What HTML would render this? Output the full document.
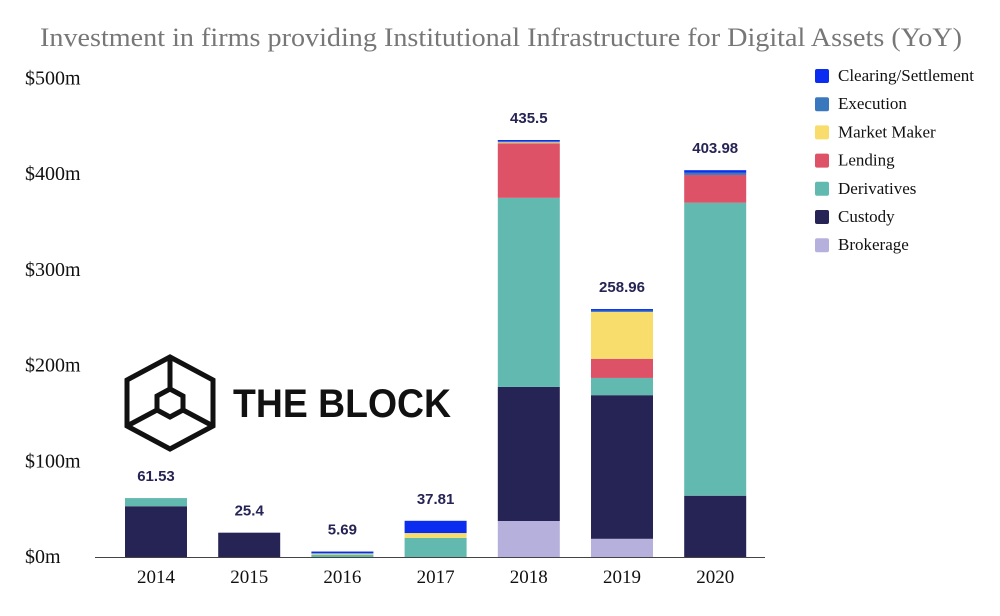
<!DOCTYPE html>
<html><head><meta charset="utf-8"><style>
body{margin:0;background:#fff;width:1000px;height:611px;overflow:hidden}
</style></head><body>
<svg id="c" width="1000" height="611" font-family="Liberation Serif, serif">
<text x="40" y="46" textLength="922" lengthAdjust="spacingAndGlyphs" font-size="26" fill="#777">Investment in firms providing Institutional Infrastructure for Digital Assets (YoY)</text>
<g transform="translate(170,402)" fill="none" stroke="#111" stroke-width="5">
<polygon points="0,-45 43,-22 43,24 0,47 -43,24 -43,-22"/>
<line x1="0" y1="-45" x2="0" y2="-13"/><line x1="43" y1="24" x2="13" y2="8"/><line x1="-43" y1="24" x2="-13" y2="8"/>
<polygon points="0,-13 13,-6 13,8 0,15 -13,8 -13,-6"/>
</g>
<text x="233" y="417" textLength="218" lengthAdjust="spacingAndGlyphs" font-family="Liberation Sans, sans-serif" font-weight="bold" font-size="40" fill="#111">THE BLOCK</text>
<line x1="95" y1="557.5" x2="765" y2="557.5" stroke="#444" stroke-width="1"/>
<g id="bars"></g><g id="yt"></g><g id="xt"></g><g id="leg"></g>
</svg>
<script>
const years=["2014","2015","2016","2017","2018","2019","2020"];
const totals=["61.53","25.4","5.69","37.81","435.5","258.96","403.98"];
const seriesNames=["Brokerage","Custody","Derivatives","Lending","Market Maker","Execution","Clearing/Settlement"];
const brokerage=[0,0,0,0,37.6,19,0];
const custody=[53,25.4,0,0,140,150,64];
const derivatives=[8.53,0,2.5,20,197.5,18,306];
const lending=[0,0,0,0,57,20,29];
const marketMaker=[0,0,1,5,1,48.96,0];
const execution=[0,0,0.5,0,1,1.5,2.5];
const clearing=[0,0,1.69,12.81,1.4,1.5,2.48];
const yTicks=[0,100,200,300,400,500];
const colors=["#b6b0dd","#262454","#62b9b0","#dd5266","#f8dd6c","#3a78be","#0a2df0"];
const data=[brokerage,custody,derivatives,lending,marketMaker,execution,clearing];
const ns="http://www.w3.org/2000/svg";
const y0=557,k=0.9575;
const y=v=>y0-v*k;
const x=i=>156+i*93.2;
const bw=62;
function mk(t,p,a){const e=document.createElementNS(ns,t);for(const q in a)e.setAttribute(q,a[q]);p.appendChild(e);return e;}
const B=document.getElementById('bars');
years.forEach((yr,i)=>{let acc=0;
data.forEach((s,j)=>{const v=s[i];if(v<=0)return;
const r=mk('rect',B,{x:x(i)-bw/2,y:y(acc+v),width:bw,height:v*k,fill:colors[j]});


acc+=v;});
const t=mk('text',B,{x:x(i),y:y(acc)-17,'text-anchor':'middle','font-family':'Liberation Sans, sans-serif','font-weight':'bold','font-size':'15',fill:'#262454'});
t.textContent=totals[i];


const xl=mk('text',document.getElementById('xt'),{x:x(i),y:583,'text-anchor':'middle','font-size':'19',fill:'#111'});
xl.textContent=yr;


});
yTicks.forEach(v=>{const t=mk('text',document.getElementById('yt'),{x:25,y:y(v)+6,'font-size':'20',fill:'#111'});
t.textContent='$'+v+'m';

});
const L=document.getElementById('leg');
for(let j=6;j>=0;j--){const row=6-j;const yy=76+row*28.2;
const g=mk('g',L,{});


mk('rect',g,{x:815,y:yy-7,width:14,height:14,rx:2,fill:colors[j]});
const t=mk('text',g,{x:838,y:yy+5,'font-size':'17',fill:'#111'});t.textContent=seriesNames[j];}
</script>
</body></html>
